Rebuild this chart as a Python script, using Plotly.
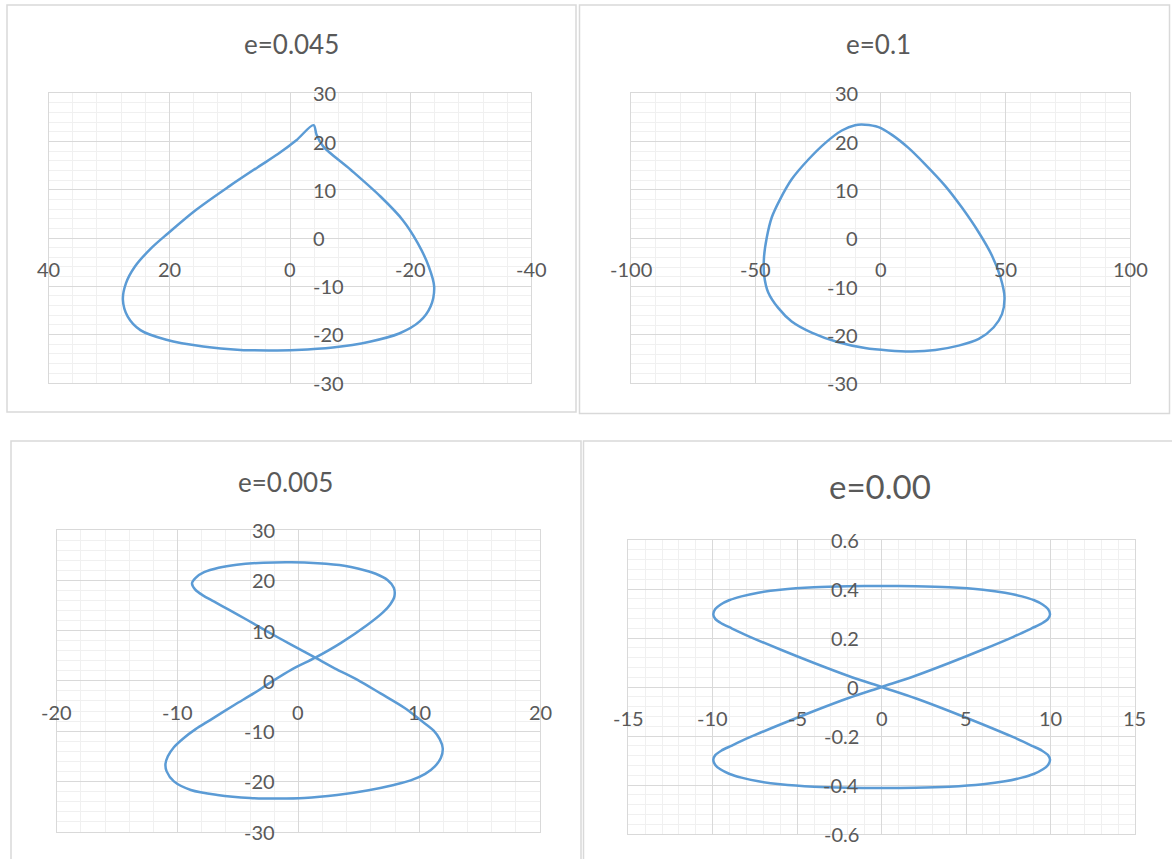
import plotly.graph_objects as go

W, H = 1172, 859

# ---- orbit samples (x, y) for each eccentricity ----
e045_x = [-3.9, -4.4, -5.5, -10.1, -15.0, -18.7, -21.2, -23.0, -23.9, -23.3, -21.5, -18.1, -13.2,
          -7.1, -1.0, 3.3, 8.2, 14.4, 20.5, 24.8, 26.9, 27.7, 27.2, 25.7, 23.0, 20.2, 15.6,
          10.1, 5.2, 2.0, -1.0, -3.9]
e045_y = [23.4, 21.4, 19.0, 14.1, 8.6, 3.7, -1.1, -5.9, -10.1, -14.2, -17.3, -19.8, -21.5,
          -22.7, -23.2, -23.3, -23.2, -22.5, -21.1, -19.1, -16.3, -12.8, -9.4, -5.9, -2.1, 1.0, 5.8,
          10.7, 14.8, 17.4, 20.2, 23.4]

e100_x = [26.0, 32.7, 39.4, 44.7, 48.1, 49.7, 48.7, 45.4, 39.4, 31.3, 22.0, 12.6, 3.2,
          -6.2, -16.9, -27.6, -35.6, -41.0, -45.0, -46.6, -46.7, -45.6, -43.6, -40.3, -35.6,
          -28.9, -22.2, -15.5, -10.2, -6.2, -0.8, 4.6, 11.2, 17.9, 26.0]
e100_y = [10.8, 6.3, 1.2, -3.6, -8.1, -12.2, -15.7, -18.4, -20.8, -22.2, -23.1, -23.4, -23.2,
          -22.7, -21.5, -19.5, -17.2, -14.4, -11.2, -7.8, -4.0, 0.1, 4.3, 8.0, 12.2,
          16.3, 19.7, 22.3, 23.4, 23.5, 23.0, 21.4, 18.7, 15.3, 10.8]

e005_x = [1.4, 3.5, 5.7, 7.0, 7.6, 7.95, 7.9, 7.4, 6.4, 5.0, 3.8, 1.6, -0.6, -2.9, -5.1, -6.6,
          -7.8, -8.5, -8.8, -8.55, -7.9, -7.0, -5.8, -4.3, -2.7, -0.6, 1.4, 3.0, 4.9, 6.8, 8.8,
          10.1, 11.2, 11.7, 11.95, 11.8, 11.3, 10.5, 9.3, 7.9, 5.7, 3.2, 0.5, -1.7, -4.0,
          -6.7, -8.9, -10.3, -10.9, -11.0, -10.8, -10.3, -9.5, -8.5, -7.3, -5.3, -3.7, -2.3, -0.6, 1.4]
e005_y = [4.6, 7.5, 11.1, 13.6, 15.2, 16.8, 18.5, 20.0, 21.3, 22.3, 22.9, 23.4, 23.6, 23.5, 23.1, 22.5,
          21.6, 20.5, 19.4, 18.2, 17.0, 15.8, 14.2, 12.2, 10.0, 7.2, 4.6, 2.5, 0.2, -2.5, -5.4,
          -7.8, -9.9, -11.6, -13.4, -15.3, -17.0, -18.5, -19.8, -20.7, -21.8, -22.7, -23.3, -23.4, -23.3,
          -22.7, -21.7, -20.0, -18.0, -16.6, -15.0, -13.2, -11.4, -9.6, -7.8, -4.8, -2.5, -0.3, 2.2, 4.6]

e000_x = [0.0, 2.0, 4.0, 6.0, 7.8, 8.9, 9.5, 9.85, 9.97, 9.85, 9.55, 9.0, 8.3, 7.3, 6.0, 4.0, 2.0, 0.0,
          -2.0, -4.0, -6.0, -7.3, -8.3, -9.0, -9.55, -9.85, -9.97, -9.85, -9.5, -8.9, -7.8, -6.0, -4.0, -2.0,
          0.0, 2.0, 4.0, 6.0, 7.8, 8.9, 9.5, 9.85, 9.97, 9.85, 9.55, 9.0, 8.3, 7.3, 6.0, 4.0, 2.0, 0.0,
          -2.0, -4.0, -6.0, -7.3, -8.3, -9.0, -9.55, -9.85, -9.97, -9.85, -9.5, -8.9, -7.8, -6.0, -4.0, -2.0, 0.0]
e000_y = [0.0, 0.046, 0.098, 0.153, 0.205, 0.24, 0.26, 0.278, 0.297, 0.318, 0.336, 0.355, 0.37, 0.385, 0.397, 0.407, 0.411, 0.412,
          0.411, 0.407, 0.397, 0.385, 0.37, 0.355, 0.336, 0.318, 0.297, 0.278, 0.26, 0.24, 0.205, 0.153, 0.098, 0.046,
          0.0, -0.046, -0.098, -0.153, -0.205, -0.24, -0.26, -0.278, -0.297, -0.318, -0.336, -0.355, -0.37, -0.385, -0.397, -0.407, -0.411, -0.412,
          -0.411, -0.407, -0.397, -0.385, -0.37, -0.355, -0.336, -0.318, -0.297, -0.278, -0.26, -0.24, -0.205, -0.153, -0.098, -0.046, 0.0]

# ---- tick values / labels ----
e045_xticks = [40, 20, 0, -20, -40]
e045_yticks = [30, 20, 10, 0, -10, -20, -30]
e100_xticks = [-100, -50, 0, 50, 100]
e100_yticks = [30, 20, 10, 0, -10, -20, -30]
e005_xticks = [-20, -10, 0, 10, 20]
e005_yticks = [30, 20, 10, 0, -10, -20, -30]
e000_xticks = [-15, -10, -5, 0, 5, 10, 15]
e000_yticks = [0.6, 0.4, 0.2, 0, -0.2, -0.4, -0.6]
e000_ylabels = ["0.6", "0.4", "0.2", "0", "-0.2", "-0.4", "-0.6"]

titles = ["e=0.045", "e=0.1", "e=0.005", "e=0.00"]

FONT = "Lato, Carlito, 'Open Sans', sans-serif"
TEXT = "#595959"
MAJOR = "#d9d9d9"
MINOR = "#f0f0f0"
LINE = "#5B9BD5"


def px(x):
    return x / W


def py(y):
    return 1 - y / H


panels = [
    dict(x=e045_x, y=e045_y, title=titles[0], xr=[40, -40], yr=[-30, 30],
         xd=20, xm=4, yd=10, ym=2, xt=e045_xticks, yt=e045_yticks,
         ylab=[str(v) for v in e045_yticks], xlab=[str(v) for v in e045_xticks],
         box=(48.7, 531.3, 93.3, 382.7), yside="right", tpos=(291.5, 44), tsize=26,
         frame=(7, 5, 576, 412)),
    dict(x=e100_x, y=e100_y, title=titles[1], xr=[-100, 100], yr=[-30, 30],
         xd=50, xm=10, yd=10, ym=2, xt=e100_xticks, yt=e100_yticks,
         ylab=[str(v) for v in e100_yticks], xlab=[str(v) for v in e100_xticks],
         box=(631, 1130, 93.3, 383.3), yside="left", tpos=(878, 44.5), tsize=26,
         frame=(579.5, 5, 1169.5, 413.5)),
    dict(x=e005_x, y=e005_y, title=titles[2], xr=[-20, 20], yr=[-30, 30],
         xd=10, xm=2, yd=10, ym=2, xt=e005_xticks, yt=e005_yticks,
         ylab=[str(v) for v in e005_yticks], xlab=[str(v) for v in e005_xticks],
         box=(56.7, 540, 530, 831.7), yside="left", tpos=(285, 481.5), tsize=26,
         frame=(11, 441, 581, 880)),
    dict(x=e000_x, y=e000_y, title=titles[3], xr=[-15, 15], yr=[-0.6, 0.6],
         xd=5, xm=1, yd=0.2, ym=0.04, xt=e000_xticks, yt=e000_yticks,
         ylab=e000_ylabels, xlab=[str(v) for v in e000_xticks],
         box=(628.3, 1135, 540, 834), yside="left", tpos=(880, 486), tsize=33,
         frame=(583.5, 441, 1190, 880)),
]

fig = go.Figure()
annotations = []
shapes = []
layout = {}

for i, p in enumerate(panels, start=1):
    sx = "" if i == 1 else str(i)
    xa, ya = "x" + sx, "y" + sx
    x0, x1, y0, y1 = p["box"]

    fig.add_trace(go.Scatter(
        x=p["x"], y=p["y"], mode="lines", xaxis=xa, yaxis=ya,
        line=dict(color=LINE, width=2.5, shape="spline", smoothing=0.9),
        hoverinfo="skip", showlegend=False))

    common = dict(showgrid=True, gridcolor=MAJOR, gridwidth=1,
                  zeroline=True, zerolinecolor=MAJOR, zerolinewidth=1.2,
                  showline=True, mirror=True, linecolor=MAJOR, linewidth=1,
                  showticklabels=False, ticks="", fixedrange=True, tick0=0)
    layout["xaxis" + sx] = dict(common, domain=[px(x0), px(x1)], range=p["xr"],
                                dtick=p["xd"], anchor=ya,
                                minor=dict(dtick=p["xm"], tick0=0, showgrid=True,
                                           gridcolor=MINOR, gridwidth=1))
    layout["yaxis" + sx] = dict(common, domain=[py(y1), py(y0)], range=p["yr"],
                                dtick=p["yd"], anchor=xa,
                                minor=dict(dtick=p["ym"], tick0=0, showgrid=True,
                                           gridcolor=MINOR, gridwidth=1))

    # labels sit next to the axis lines that cross at the origin
    for v, t in zip(p["xt"], p["xlab"]):
        annotations.append(dict(x=v, y=0, xref=xa, yref=ya, text=t, showarrow=False,
                                xanchor="center", yanchor="middle", yshift=-31,
                                font=dict(family=FONT, size=20, color=TEXT)))
    for v, t in zip(p["yt"], p["ylab"]):
        if p["yside"] == "right":
            anchor, shift = "left", 21
        else:
            anchor, shift = "right", -21
        annotations.append(dict(x=0, y=v, xref=xa, yref=ya, text=t, showarrow=False,
                                xanchor=anchor, yanchor="middle", xshift=shift,
                                font=dict(family=FONT, size=20, color=TEXT)))

    tx, ty = p["tpos"]
    annotations.append(dict(x=px(tx), y=py(ty), xref="paper", yref="paper",
                            text=p["title"], showarrow=False,
                            xanchor="center", yanchor="middle",
                            font=dict(family=FONT, size=p["tsize"], color=TEXT)))

    fx0, fy0, fx1, fy1 = p["frame"]
    shapes.append(dict(type="rect", xref="paper", yref="paper",
                       x0=px(fx0), x1=px(fx1), y0=py(fy1), y1=py(fy0),
                       line=dict(color=MAJOR, width=1.5), fillcolor="rgba(0,0,0,0)",
                       layer="below"))

fig.update_layout(
    width=W, height=H, margin=dict(l=0, r=0, t=0, b=0),
    paper_bgcolor="white", plot_bgcolor="white",
    showlegend=False, annotations=annotations, shapes=shapes,
    font=dict(family=FONT, color=TEXT),
    **layout,
)

fig.write_html("out.html")
